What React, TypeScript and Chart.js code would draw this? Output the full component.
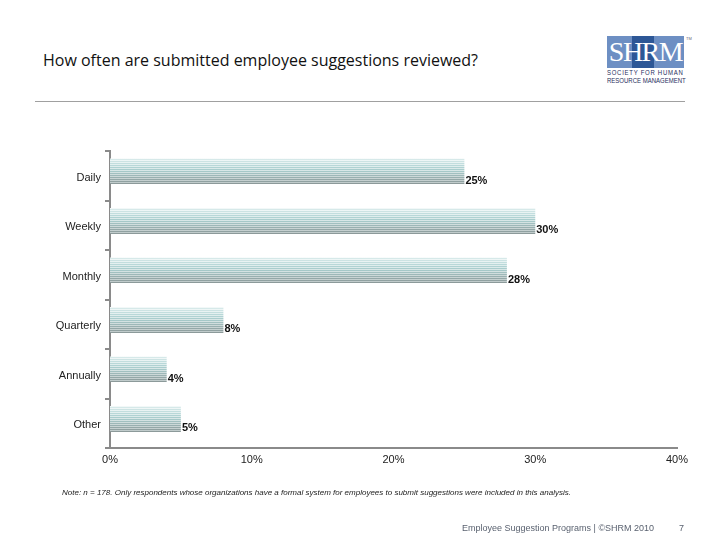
import React, { useEffect, useRef } from "react";
import { Chart, registerables } from "chart.js";

Chart.register(...registerables);

const TITLE = "How often are submitted employee suggestions reviewed?";
const CATEGORIES = ["Daily", "Weekly", "Monthly", "Quarterly", "Annually", "Other"];
const VALUES = [25, 30, 28, 8, 4, 5];
const X_TICKS = [0, 10, 20, 30, 40];
const NOTE =
  "Note: n = 178. Only respondents whose organizations have a formal system for employees to submit suggestions were included in this analysis.";
const FOOTER = "Employee Suggestion Programs | ©SHRM 2010";
const PAGE = "7";

const STRIPE_COLORS = [
  "#d6e9e9", "#cce3e3", "#c2dede", "#b8d8d8", "#afd2d2", "#a9cdcd", "#a5c8c8",
  "#a1c0c0", "#9db8b8", "#98b0b0", "#94a8a8", "#90a1a1", "#8c9a9a",
];
const GAP_COLORS = [
  "#f2f8f8", "#eef6f6", "#e9f3f3", "#e4f0f0", "#dfeded", "#dbeaea", "#d8e7e7",
  "#d4e2e2", "#d0dddd", "#ccd8d8", "#c8d3d3", "#c4cfcf", "#c0cbcb",
];

const BAR_PCT = 0.7;
const STRIPE_PX = 2;

function stripeFill(ctx: any) {
  const chart = ctx.chart;
  const area = chart.chartArea;
  if (!area || !chart.scales || !chart.scales.y) return STRIPE_COLORS[6];
  const y = chart.scales.y;
  const c = y.getPixelForValue(ctx.dataIndex);
  const band = y.height / CATEGORIES.length;
  const th = band * BAR_PCT;
  const y0 = Math.round(c - th / 2);
  const total = Math.ceil(th) + 2;
  const g = chart.ctx.createLinearGradient(0, y0, 0, y0 + total);
  const n = STRIPE_COLORS.length;
  for (let i = 0; i < n; i++) {
    const s = (i * STRIPE_PX) / total;
    const m = (i * STRIPE_PX + 1) / total;
    const e = ((i + 1) * STRIPE_PX) / total;
    g.addColorStop(s, GAP_COLORS[i]);
    g.addColorStop(m, GAP_COLORS[i]);
    g.addColorStop(m, STRIPE_COLORS[i]);
    g.addColorStop(e, STRIPE_COLORS[i]);
  }
  const end = (n * STRIPE_PX) / total;
  g.addColorStop(end, "rgba(255,255,255,0)");
  g.addColorStop(1, "rgba(255,255,255,0)");
  return g;
}

const labelPlugin = {
  id: "barLabels",
  afterDatasetsDraw(chart: any) {
    const meta = chart.getDatasetMeta(0);
    const c = chart.ctx;
    c.save();
    c.font = "bold 11px 'Liberation Sans', Arial, sans-serif";
    c.fillStyle = "#111";
    c.textAlign = "left";
    c.textBaseline = "middle";
    meta.data.forEach((bar: any, i: number) => {
      c.fillText(VALUES[i] + "%", bar.x + 1, bar.y + 5);
    });
    c.restore();
  },
};

export default function App() {
  const ref = useRef<HTMLCanvasElement | null>(null);

  useEffect(() => {
    if (!ref.current) return;
    const chart = new Chart(ref.current, {
      type: "bar",
      data: {
        labels: CATEGORIES,
        datasets: [
          {
            data: VALUES,
            backgroundColor: stripeFill,
            borderWidth: 0,
            barPercentage: BAR_PCT,
            categoryPercentage: 1,
          },
        ],
      },
      plugins: [labelPlugin],
      options: {
        indexAxis: "y",
        animation: false,
        responsive: false,
        events: [],
        layout: { padding: { top: 151, right: 43, left: 0, bottom: 0 } },
        plugins: { legend: { display: false }, tooltip: { enabled: false } },
        scales: {
          x: {
            min: 0,
            max: 40,
            afterBuildTicks: (s: any) => {
              s.ticks = X_TICKS.map((v) => ({ value: v }));
            },
            afterFit: (s: any) => {
              s.height = 540 - 448;
            },
            grid: { display: false, drawTicks: false },
            border: { display: true, color: "#8a8a8a", width: 2 },
            ticks: {
              padding: 5,
              color: "#222",
              font: { family: "'Liberation Sans', Arial, sans-serif", size: 11 },
              callback: (v: any) => v + "%",
              maxRotation: 0,
            },
          },
          y: {
            afterFit: (s: any) => {
              s.width = 110;
            },
            grid: {
              display: true,
              drawOnChartArea: false,
              drawTicks: true,
              tickLength: 5,
              color: "#8a8a8a",
              lineWidth: 2,
              offset: true,
            },
            border: { display: true, color: "#8a8a8a", width: 2 },
            ticks: {
              padding: 4,
              labelOffset: 2,
              color: "#222",
              font: { family: "'Liberation Sans', Arial, sans-serif", size: 11 },
            },
          },
        },
      },
    });
    return () => chart.destroy();
  }, []);

  return (
    <div style={{ position: "absolute", left: 0, top: 0, width: 720, height: 540, background: "#fff", overflow: "hidden" }}>
      <div
        style={{
          position: "absolute",
          left: 43,
          top: 49,
          fontFamily: "'Open Sans', 'Noto Sans', sans-serif",
          fontSize: 16,
          color: "#111",
          whiteSpace: "nowrap",
        }}
      >
        {TITLE}
      </div>
      <div style={{ position: "absolute", left: 35, top: 101, width: 650, height: 1, background: "#a0a0a0" }} />
      {/* Logo */}
      <div style={{ position: "absolute", left: 607, top: 36, width: 77, height: 32, background: "#6d8fc3" }}>
        <div style={{ position: "absolute", left: 25, top: 0, width: 22, height: 32, background: "#2d5796" }} />
        <div
          style={{
            position: "absolute",
            left: 0,
            top: -1,
            width: 77,
            textAlign: "center",
            fontFamily: "'Liberation Serif', 'DejaVu Serif', serif",
            fontSize: 28,
            color: "#fff",
            letterSpacing: -1.5,
            lineHeight: "34px",
          }}
        >
          SHRM
        </div>
      </div>
      <div style={{ position: "absolute", left: 686, top: 36, fontSize: 4, color: "#667", fontFamily: "'Liberation Sans', sans-serif" }}>TM</div>
      <div
        style={{
          position: "absolute",
          left: 607,
          top: 69,
          fontFamily: "'Liberation Sans', sans-serif",
          fontSize: 7.5,
          lineHeight: "8px",
          color: "#1f2f5e",
          whiteSpace: "nowrap",
          transform: "scaleX(0.8)",
          transformOrigin: "0 0",
        }}
      >
        <div style={{ letterSpacing: 0.9 }}>SOCIETY FOR HUMAN</div>
        <div>RESOURCE MANAGEMENT</div>
      </div>
      <canvas ref={ref} width={720} height={540} style={{ position: "absolute", left: 0, top: 0 }} />
      <div
        style={{
          position: "absolute",
          left: 62,
          top: 488,
          fontFamily: "'Liberation Sans', Arial, sans-serif",
          fontStyle: "italic",
          fontSize: 8,
          color: "#222",
          whiteSpace: "nowrap",
        }}
      >
        {NOTE}
      </div>
      <div
        style={{
          position: "absolute",
          left: 462,
          top: 523,
          fontFamily: "'Liberation Sans', Arial, sans-serif",
          fontSize: 9,
          color: "#5a6270",
          whiteSpace: "nowrap",
        }}
      >
        {FOOTER}
      </div>
      <div
        style={{
          position: "absolute",
          left: 679,
          top: 523,
          fontFamily: "'Liberation Sans', Arial, sans-serif",
          fontSize: 9,
          color: "#5a6270",
        }}
      >
        {PAGE}
      </div>
    </div>
  );
}
